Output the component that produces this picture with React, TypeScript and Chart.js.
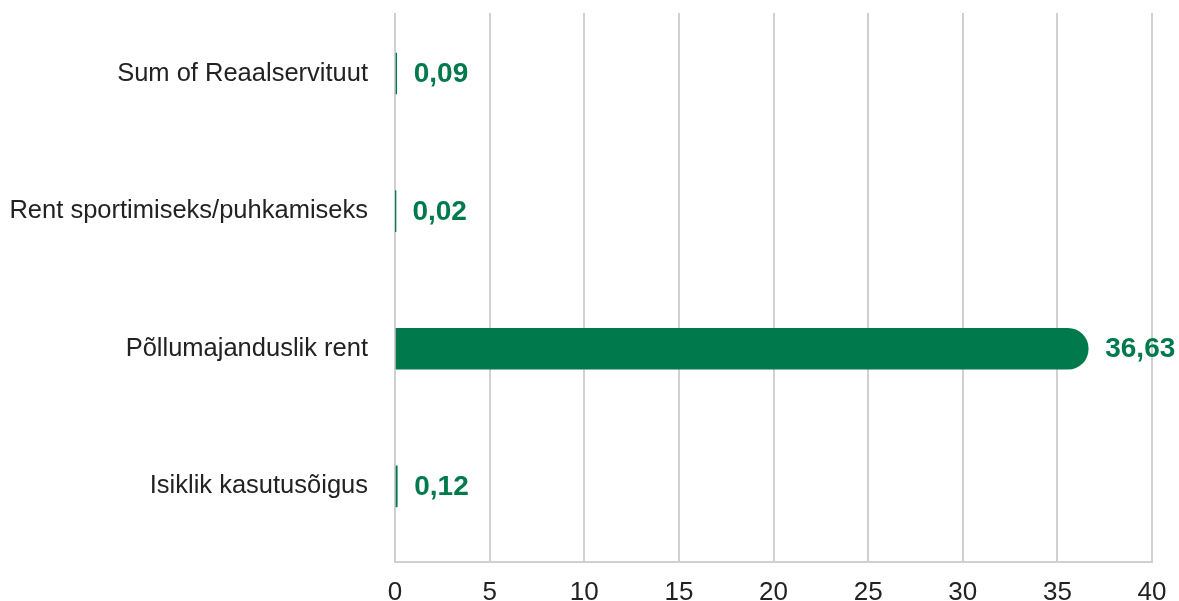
import React, { useEffect, useRef } from "react";
import { Chart, registerables } from "chart.js";

Chart.register(...registerables);

const categories = [
  "Sum of Reaalservituut",
  "Rent sportimiseks/puhkamiseks",
  "Põllumajanduslik rent",
  "Isiklik kasutusõigus",
];
const values = [0.09, 0.02, 36.63, 0.12];
const xTicks = [0, 5, 10, 15, 20, 25, 30, 35, 40];

const GREEN = "#007a4d";
const GRID = "#d0d0d0";
const FONT = "'Liberation Sans', Arial, sans-serif";

const labelPlugin = {
  id: "valueLabels",
  afterDatasetsDraw(chart: any) {
    const ctx = chart.ctx;
    const meta = chart.getDatasetMeta(0);
    ctx.save();
    ctx.font = `bold 28px ${FONT}`;
    ctx.fillStyle = GREEN;
    ctx.textAlign = "left";
    ctx.textBaseline = "middle";
    meta.data.forEach((bar: any, i: number) => {
      const txt = values[i].toFixed(2).replace(".", ",");
      ctx.fillText(txt, bar.x + 17, bar.y + 1);
    });
    ctx.restore();
  },
};

export default function App() {
  const ref = useRef<HTMLCanvasElement | null>(null);
  useEffect(() => {
    if (!ref.current) return;
    const chart = new Chart(ref.current, {
      type: "bar",
      data: {
        datasets: [
          {
            data: values.map((v, i) => ({ x: v, y: i })),
            backgroundColor: GREEN,
            barThickness: 41,
            borderRadius: 21,
            borderSkipped: "start",
          },
        ],
      },
      options: {
        indexAxis: "y",
        animation: false,
        responsive: false,
        maintainAspectRatio: false,
        layout: { padding: { top: 13, right: 27, left: 0, bottom: 0 } },
        plugins: {
          legend: { display: false },
          tooltip: { enabled: false },
        },
        scales: {
          x: {
            type: "linear",
            min: 0,
            max: 40,
            afterBuildTicks: (axis: any) => {
              axis.ticks = xTicks.map((v) => ({ value: v }));
            },
            afterFit: (axis: any) => {
              axis.height = 39;
              axis.paddingLeft = 0;
              axis.paddingRight = 0;
            },
            grid: { color: GRID, lineWidth: 2, drawTicks: false },
            border: { display: true, color: GRID, width: 2 },
            ticks: {
              color: "#222",
              font: { family: FONT, size: 26 },
              padding: 15,
              maxRotation: 0,
            },
          },
          y: {
            type: "linear",
            offset: false,
            reverse: true,
            min: -0.44,
            max: 3.55,
            afterBuildTicks: (axis: any) => {
              axis.ticks = categories.map((_, i) => ({ value: i }));
            },
            afterFit: (axis: any) => {
              axis.width = 395;
              axis.paddingTop = 0;
              axis.paddingBottom = 0;
            },
            grid: { display: false, drawTicks: false, offset: false },
            border: { display: false },
            ticks: {
              color: "#222",
              font: { family: FONT, size: 25.5 },
              padding: 27,
              callback: (v: any) => categories[Math.round(Number(v))] ?? "",
            },
          },
        },
      },
      plugins: [labelPlugin],
    });
    return () => chart.destroy();
  }, []);
  return (
    <div style={{ position: "fixed", left: 0, top: 0, width: 1179, height: 601, background: "#fff" }}>
      <canvas ref={ref} width={1179} height={601} style={{ width: 1179, height: 601 }} />
    </div>
  );
}
